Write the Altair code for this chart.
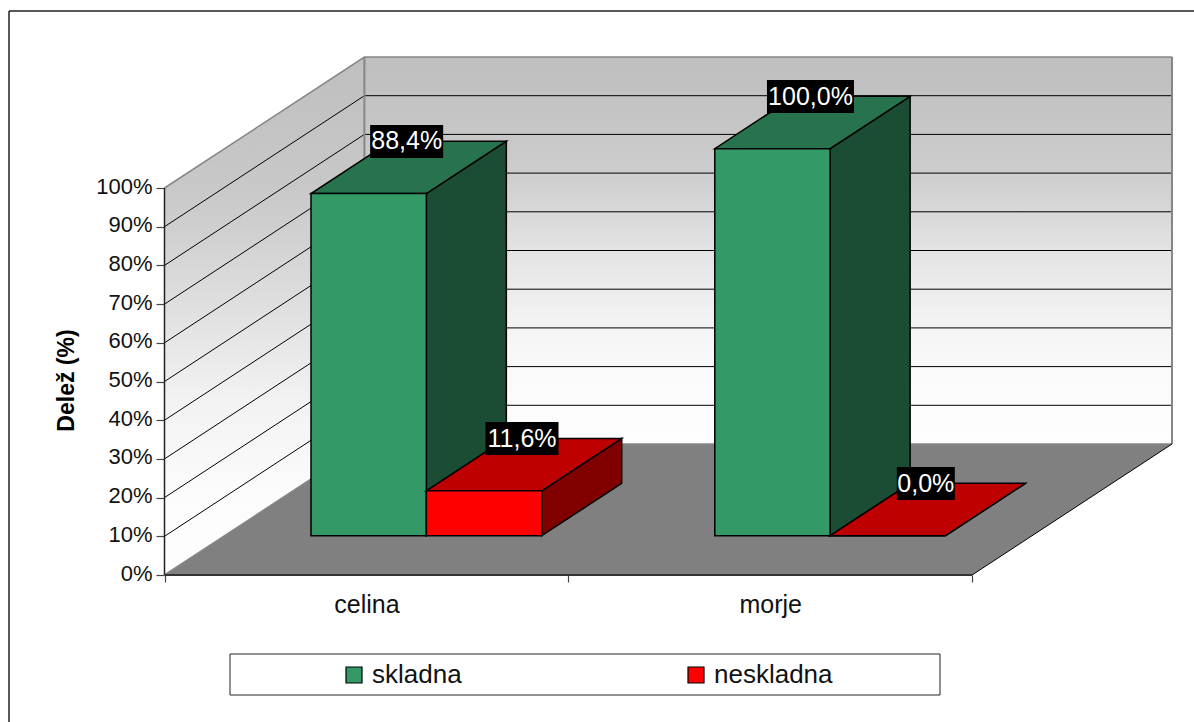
import altair as alt
import pandas as pd

# Shares per category and series
categories = ["celina", "morje"]
series = ["skladna", "neskladna"]
skladna = [88.4, 100.0]
neskladna = [11.6, 0.0]
percent_ticks = [0, 10, 20, 30, 40, 50, 60, 70, 80, 90, 100]

# Box projection: a step in depth moves right and up on the page
DEPTH_X = 200 / 404
DEPTH_Y = 131 / 3.87
X_MAX = 2 + DEPTH_X
Y_MAX = 100 + DEPTH_Y

# Bars fill a gap width and a gap depth of 150 %
BAR_W = 1 / 3.5
BAR_GAP = 0.75 * BAR_W
D0, D1 = 0.3, 0.7

FONT = "Liberation Sans"
BLACK = "#000000"
WALL_EDGE = "#868686"
FRONT = {"skladna": "#339966", "neskladna": "#FF0000"}
TOP = {"skladna": "#26734D", "neskladna": "#BF0000"}
SIDE = {"skladna": "#1A4D33", "neskladna": "#800000"}

# Wall shading, top to bottom
back_wall_stops = [(0, "#BFBFBF"), (0.1, "#C2C2C2"), (0.2, "#C7C7C7"), (0.3, "#CDCDCD"), (0.4, "#D8D8D8"),
                   (0.5, "#E3E3E3"), (0.6, "#ECECEC"), (0.7, "#F4F4F4"), (0.8, "#FAFAFA"), (1, "#FEFEFE")]
side_wall_stops = [(0, "#BFBFBF"), (0.25, "#C8C8C8"), (0.32, "#CECECE"), (0.47, "#DEDEDE"),
                   (0.66, "#F2F2F2"), (0.85, "#FCFCFC"), (1, "#FEFEFE")]

x_scale = alt.Scale(domain=[0, X_MAX], range=[0.5, 1008], zero=False, nice=False)
y_scale = alt.Scale(domain=[0, Y_MAX], range=[518, 0], zero=False, nice=False)


def px(cat_pos, depth):
    return cat_pos + depth * DEPTH_X


def py(value, depth):
    return value + depth * DEPTH_Y


def X(axis=None):
    return alt.X("x:Q", scale=x_scale, axis=axis, title=None)


def Y(axis=None):
    return alt.Y("y:Q", scale=y_scale, axis=axis, title=None)


def upright(x0, x1, lo0, hi0, lo1, hi1, **style):
    """Parallelogram with vertical ends, for side faces and walls."""
    rows = pd.DataFrame({"x": [x0, x1], "y": [lo0, lo1], "y2": [hi0, hi1]})
    return alt.Chart(rows).mark_area(opacity=1, **style).encode(
        x=X(), y=Y(), y2=alt.Y2("y2:Q")
    )


def flat(y0, y1, a0, b0, a1, b1, **style):
    """Parallelogram with horizontal ends, for top faces and the floor."""
    rows = pd.DataFrame({"y": [y0, y1], "x": [a0, a1], "x2": [b0, b1]})
    return alt.Chart(rows).mark_area(opacity=1, orient="horizontal", **style).encode(
        y=Y(), x=X(), x2=alt.X2("x2:Q")
    )


def vertical_gradient(stops):
    return alt.Gradient(
        gradient="linear",
        stops=[alt.GradientStop(color=c, offset=o) for o, c in stops],
        x1=0, y1=0, x2=0, y2=1,
    )


layers = []

# Side wall, back wall and floor
layers.append(upright(px(0, 0), px(0, 1), 0, 100, py(0, 1), py(100, 1), fill=vertical_gradient(side_wall_stops)))
layers.append(upright(px(0, 1), px(2, 1), py(0, 1), py(100, 1), py(0, 1), py(100, 1), fill=vertical_gradient(back_wall_stops)))
layers.append(flat(py(0, 0), py(0, 1), px(0, 0), px(2, 0), px(0, 1), px(2, 1), fill="#808080"))

# Gridlines run along the side wall and across the back wall
grid_rows = []
for v in percent_ticks:
    for cat_pos, depth in [(0, 0), (0, 1), (2, 1)]:
        grid_rows.append({"x": px(cat_pos, depth), "y": py(v, depth), "v": v})
grid = pd.DataFrame(grid_rows)
layers.append(
    alt.Chart(grid[~grid.v.isin([0, 100])]).mark_line(color=BLACK, strokeWidth=1).encode(
        x=X(), y=Y(), detail="v:N", order=alt.Order("x:Q")
    )
)
layers.append(
    alt.Chart(grid[grid.v.isin([0, 100])]).mark_line(color=WALL_EDGE, strokeWidth=1.5).encode(
        x=X(), y=Y(), detail="v:N", order=alt.Order("x:Q")
    )
)
corners = pd.DataFrame({"x": [px(0, 1), px(2, 1)], "y": [py(0, 1)] * 2, "y2": [py(100, 1)] * 2})
layers.append(
    alt.Chart(corners).mark_rule(color=WALL_EDGE, strokeWidth=2).encode(
        x=X(), y=Y(), y2=alt.Y2("y2:Q")
    )
)

# Floor's right edge, front edge and the value axis with its ticks and labels
right_edge = pd.DataFrame({"x": [px(2, 0), px(2, 1)], "y": [py(0, 0), py(0, 1)]})
layers.append(alt.Chart(right_edge).mark_line(color=BLACK, strokeWidth=1).encode(x=X(), y=Y()))

value_axis = alt.Axis(
    orient="left",
    values=percent_ticks,
    labelExpr="datum.value + '%'",
    labelFont=FONT,
    labelFontSize=22,
    labelColor="#111111",
    labelPadding=4,
    labelOffset=-2,
    tickColor="#444444",
    tickSize=8,
    tickWidth=1.2,
    domain=False,
    grid=False,
    title="Delež (%)",
    titleFont=FONT,
    titleFontSize=23,
    titleFontWeight="bold",
    titleColor=BLACK,
    titleX=-86,
    titleY=323,
)
axis_line = pd.DataFrame({"x": [0.0], "y": [0.0], "y2": [100.0]})
layers.append(
    alt.Chart(axis_line).mark_rule(color="#222222", strokeWidth=1.5).encode(
        x=X(), y=Y(value_axis), y2=alt.Y2("y2:Q")
    )
)

tick_axis = alt.Axis(
    orient="bottom",
    values=[0, 1, 2], labels=False, domain=False, grid=False,
    tickColor="#444444", tickSize=7, tickWidth=1.2,
)
label_axis = alt.Axis(
    orient="bottom",
    values=[0.5, 1.5],
    labelExpr=f"datum.value < 1 ? '{categories[0]}' : '{categories[1]}'",
    labelFont=FONT, labelFontSize=25, labelColor="#111111", labelPadding=17,
    ticks=False, domain=False, grid=False,
)
front_edge = pd.DataFrame({"x": [0.0, 2.0], "y": [0.0, 0.0]})
layers.append(alt.Chart(front_edge).mark_line(color="#333333", strokeWidth=2).encode(x=X(tick_axis), y=Y()))
layers.append(alt.Chart(front_edge).mark_line(opacity=0).encode(x=X(label_axis), y=Y()))

# Bars, with the front faces carrying the legend
label_rows = []
bar_faces = []
for c, values in enumerate(zip(skladna, neskladna)):
    for s, value in enumerate(values):
        name = series[s]
        left = c + BAR_GAP + s * BAR_W
        right = left + BAR_W
        bar_faces.append(
            upright(px(right, D0), px(right, D1), py(0, D0), py(value, D0), py(0, D1), py(value, D1),
                    fill=SIDE[name], stroke=BLACK, strokeWidth=1.5)
        )
        bar_faces.append(
            flat(py(value, D0), py(value, D1), px(left, D0), px(right, D0), px(left, D1), px(right, D1),
                 fill=TOP[name], stroke=BLACK, strokeWidth=1.5)
        )
        front = pd.DataFrame({
            "x": [px(left, D0)], "x2": [px(right, D0)],
            "y": [py(0, D0)], "y2": [py(value, D0)], "series": [name],
        })
        bar_faces.append(
            alt.Chart(front).mark_rect(stroke=BLACK, strokeWidth=1.5, opacity=1).encode(
                x=X(), x2=alt.X2("x2:Q"), y=Y(), y2=alt.Y2("y2:Q"),
                color=alt.Color(
                    "series:N",
                    scale=alt.Scale(domain=series, range=[FRONT[n] for n in series]),
                    legend=alt.Legend(
                        title=None,
                        orient="none",
                        legendX=177,
                        legendY=605,
                        columns=2,
                        columnPadding=221,
                        symbolType="square",
                        symbolSize=256,
                        symbolStrokeColor=BLACK,
                        symbolStrokeWidth=1.2,
                        symbolOpacity=1,
                        labelFont=FONT,
                        labelFontSize=26,
                        labelColor="#111111",
                        labelOffset=5,
                    ),
                ),
            )
        )
        label_rows.append({
            "x": px(left + BAR_W / 2, (D0 + D1) / 2),
            "y": py(value, (D0 + D1) / 2),
            "label": f"{value:.1f}%".replace(".", ","),
        })
layers.extend(bar_faces)

# Value labels: white text on a black plate sized to the text
plate_width = {"88,4%": 73, "11,6%": 73, "100,0%": 87, "0,0%": 58}
for row in label_rows:
    one = pd.DataFrame([row])
    layers.append(
        alt.Chart(one).mark_rect(
            color=BLACK, width=plate_width[row["label"]], height=33, yOffset=-26, xOffset=-2, opacity=1
        ).encode(x=X(), y=Y())
    )
    layers.append(
        alt.Chart(one).mark_text(
            color="#FFFFFF", font=FONT, fontSize=25, yOffset=-26, xOffset=-2, baseline="middle", align="center"
        ).encode(x=X(), y=Y(), text="label:N")
    )

# Legend frame and the outer chart frame
layers.append(
    alt.Chart(pd.DataFrame({"k": [0]})).mark_rect(fillOpacity=0, stroke="#222222", strokeWidth=1).encode(
        x=alt.value(66), x2=alt.value(776), y=alt.value(597), y2=alt.value(638)
    )
)
layers.append(
    alt.Chart(pd.DataFrame({"k": [0]})).mark_rule(color="#222222", strokeWidth=1.5).encode(
        x=alt.value(-155), x2=alt.value(1030), y=alt.value(-46)
    )
)
layers.append(
    alt.Chart(pd.DataFrame({"k": [0]})).mark_rule(color="#222222", strokeWidth=1.5).encode(
        x=alt.value(-155), y=alt.value(-46), y2=alt.value(665)
    )
)

chart = (
    alt.layer(*layers)
    .resolve_axis(x="independent", y="independent")
    .properties(
        width=1008,
        height=518,
        autosize=alt.AutoSizeParams(type="none"),
        padding={"left": 164, "top": 57, "right": 22, "bottom": 147},
        background="#FFFFFF",
    )
    .configure_view(stroke=None)
)

chart.save("out.html", embed_options={"renderer": "svg", "actions": False})
